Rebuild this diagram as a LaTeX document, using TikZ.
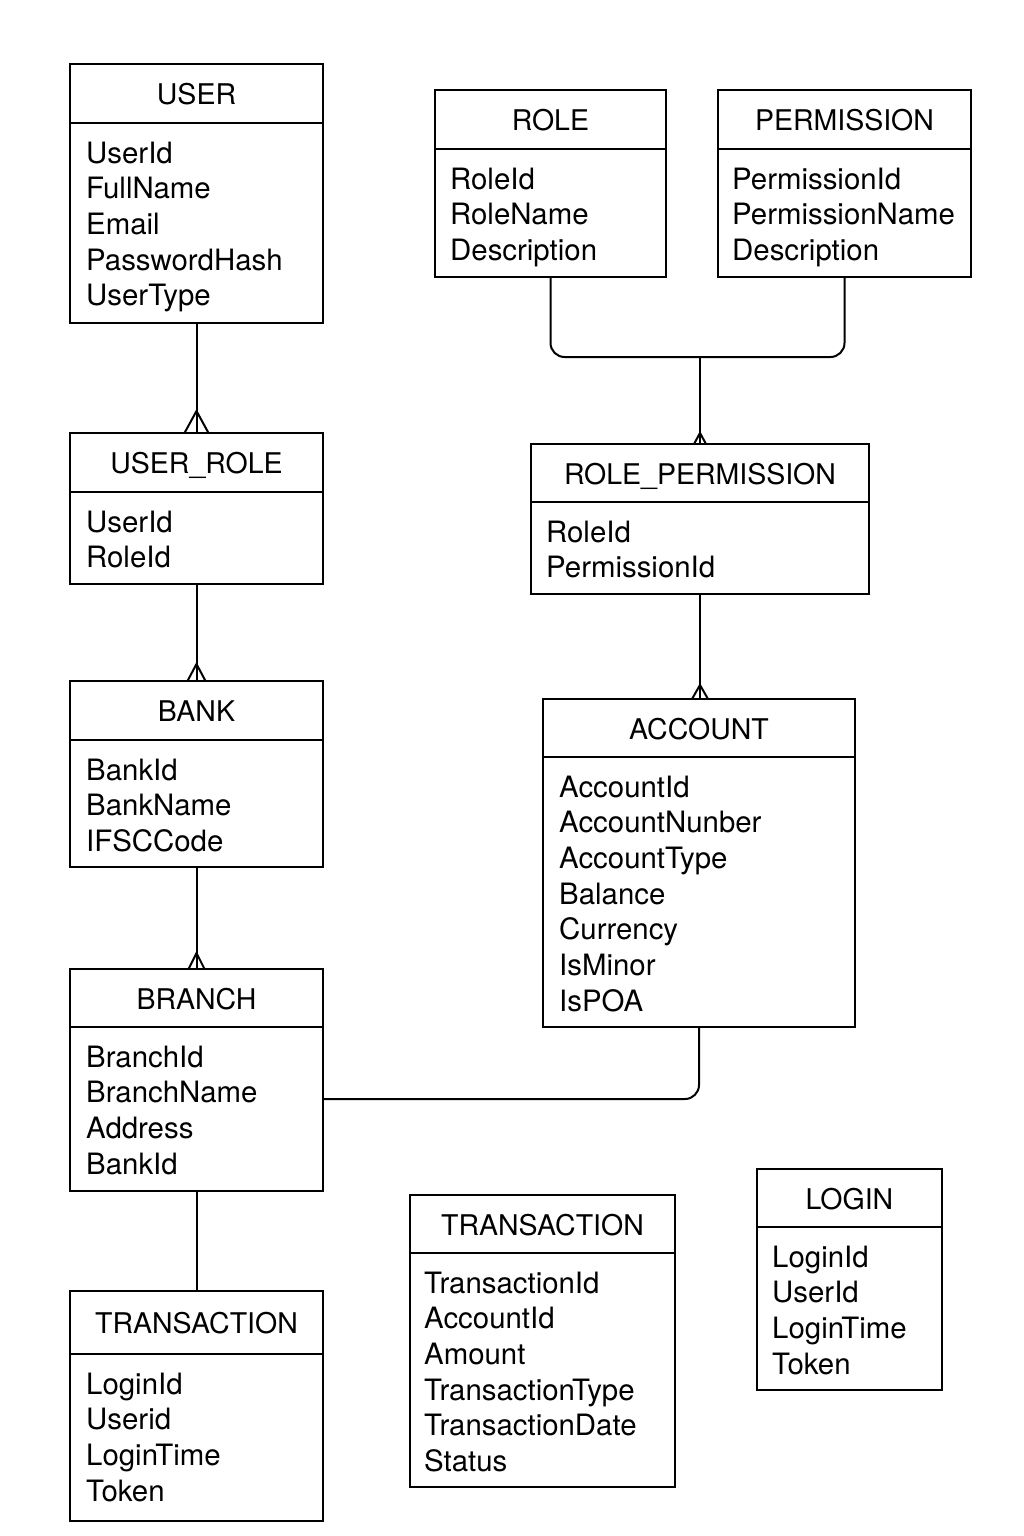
\documentclass[tikz,border=0pt]{standalone}
\usepackage{fontspec}
\setmainfont{TeX Gyre Heros}
\tikzset{
 ent/.style={draw, line width=2pt, rectangle, inner sep=0pt, outer sep=0pt, anchor=north west},
 ttl/.style={font=\fontsize{28.5}{34}\selectfont, inner sep=0pt, anchor=base},
 attr/.style={font=\fontsize{29.4}{34}\selectfont, inner sep=0pt, anchor=base west},
 conn/.style={line width=2pt},
 crowft/.style={line width=2pt, line join=miter},
}
\newcommand\entity[9]{%
 \pgfmathsetmacro\ew{#4-#2}\pgfmathsetmacro\eh{#6-#3}%
 \pgfmathsetmacro\ecx{(#2+#4)/2}\pgfmathsetmacro\ety{(#3+#5)/2+11}%
 \node[ent, minimum width=\ew pt, minimum height=\eh pt] (#1) at (#2,#3) {};
 \draw[line width=2pt] (#2,#5) -- (#4,#5);
 \node[ttl] (#1-t) at (\ecx,\ety) {#7};
 \foreach \a [count=\i] in {#8} {
   \pgfmathsetmacro\ay{#5+40+(\i-1)*35.7}
   \node[attr] (#1-a\i) at (#2+#9,\ay) {\a};
 }
}
\newcommand\crowfoot[3]{\draw[crowft] ([xshift=-#2pt]#1) -- ([yshift=#3pt]#1) -- ([xshift=#2pt]#1);}
\begin{document}
\begin{tikzpicture}[x=1pt,y=-1pt]
\fill[white] (0,0) rectangle (1024,1536);
\useasboundingbox (0,0) rectangle (1024,1536);

\entity{user}{70}{64}{323}{123}{323}{USER}{UserId,FullName,Email,PasswordHash,UserType}{16}
\entity{role}{435}{90}{666}{149}{277}{ROLE}{RoleId,RoleName,Description}{15}
\entity{perm}{718}{90}{971}{149}{277}{PERMISSION}{PermissionId,PermissionName,Description}{14}
\entity{ur}{70}{433}{323}{492}{584}{USER\_ROLE}{UserId,RoleId}{16}
\entity{rp}{531}{444}{869}{502}{594}{ROLE\_PERMISSION}{RoleId,PermissionId}{15}
\entity{bank}{70}{681}{323}{740}{867}{BANK}{BankId,BankName,IFSCCode}{16}
\entity{acc}{543}{699}{855}{757}{1027}{ACCOUNT}{AccountId,AccountNunber,AccountType,Balance,Currency,IsMinor,IsPOA}{16}
\entity{branch}{70}{969}{323}{1027}{1191}{BRANCH}{BranchId,BranchName,Address,BankId}{16}
\entity{tl}{70}{1291}{323}{1354}{1521}{TRANSACTION}{LoginId,Userid,LoginTime,Token}{16}
\entity{tm}{410}{1195}{675}{1253}{1487}{TRANSACTION}{TransactionId,AccountId,Amount,TransactionType,TransactionDate,Status}{14}
\entity{login}{757}{1169}{942}{1227}{1390}{LOGIN}{LoginId,UserId,LoginTime,Token}{15}

% connectors
\draw[conn] (user.south) -- (ur.north);
\crowfoot{ur.north}{12}{22}
\draw[conn] (ur.south) -- (bank.north);
\crowfoot{bank.north}{9}{17}
\draw[conn] (bank.south) -- (branch.north);
\crowfoot{branch.north}{8}{16}
\draw[conn] (branch.south) -- (tl.north);

\coordinate (jn) at (700,357);
\draw[conn, rounded corners=14pt] (role.south) |- (jn) -| (perm.south);
\draw[conn] (jn) -- (rp.north);
\crowfoot{rp.north}{6}{11}
\coordinate (an) at (acc.north -| rp.south);
\draw[conn] (rp.south) -- (an);
\crowfoot{an}{8}{14}
\draw[conn, rounded corners=14pt] (acc.south) |- ([yshift=-19pt]branch.east);
\end{tikzpicture}
\end{document}
